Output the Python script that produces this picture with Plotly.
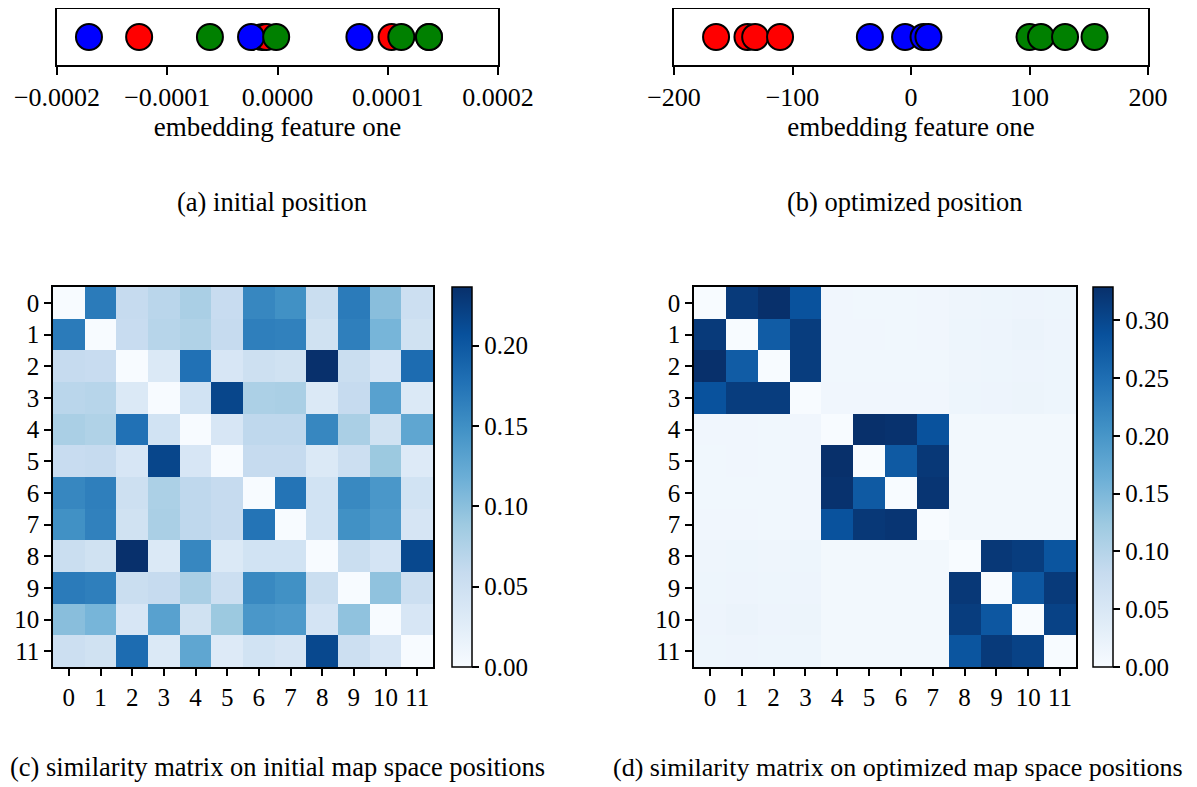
import plotly.graph_objects as go

# ---------------- data ----------------
# (a) initial 1-D embedding positions
init_red = [-0.0001255, -0.0000140, -0.0000100, 0.0001035]
init_blue = [-0.000171, -0.000024, 0.0000743, 0.0001374]
init_green = [-0.0000613, -0.0000012, 0.0001123, 0.0001374]

# (b) optimized 1-D embedding positions
opt_red = [-164.5, -138.0, -131.5, -110.5]
opt_blue = [-34.7, -5.0, 10.6, 14.7]
opt_green = [100.0, 109.7, 130.0, 154.9]

strip_a_ticks = [-0.0002, -0.0001, 0.0, 0.0001, 0.0002]
strip_a_labels = ["−0.0002", "−0.0001", "0.0000", "0.0001", "0.0002"]
strip_b_ticks = [-200, -100, 0, 100, 200]
strip_b_labels = ["−200", "−100", "0", "100", "200"]

idx = list(range(12))

# (c) similarity matrix on initial positions
sim_initial = [
    [0.000, 0.168, 0.059, 0.068, 0.080, 0.057, 0.158, 0.149, 0.054, 0.168, 0.101, 0.052],
    [0.168, 0.000, 0.057, 0.070, 0.075, 0.059, 0.165, 0.163, 0.047, 0.165, 0.111, 0.047],
    [0.059, 0.057, 0.000, 0.033, 0.177, 0.038, 0.050, 0.047, 0.236, 0.054, 0.038, 0.182],
    [0.068, 0.070, 0.033, 0.000, 0.045, 0.217, 0.078, 0.080, 0.033, 0.059, 0.132, 0.033],
    [0.080, 0.075, 0.177, 0.045, 0.000, 0.038, 0.064, 0.064, 0.158, 0.080, 0.047, 0.127],
    [0.057, 0.059, 0.038, 0.217, 0.038, 0.000, 0.059, 0.059, 0.033, 0.052, 0.090, 0.031],
    [0.158, 0.165, 0.050, 0.078, 0.064, 0.059, 0.000, 0.175, 0.045, 0.156, 0.142, 0.045],
    [0.149, 0.163, 0.047, 0.080, 0.064, 0.059, 0.175, 0.000, 0.045, 0.149, 0.139, 0.040],
    [0.054, 0.047, 0.236, 0.033, 0.158, 0.033, 0.045, 0.045, 0.000, 0.054, 0.042, 0.215],
    [0.168, 0.165, 0.054, 0.059, 0.080, 0.052, 0.156, 0.149, 0.054, 0.000, 0.097, 0.052],
    [0.101, 0.111, 0.038, 0.132, 0.047, 0.090, 0.142, 0.139, 0.042, 0.097, 0.000, 0.038],
    [0.052, 0.047, 0.182, 0.033, 0.127, 0.031, 0.045, 0.040, 0.215, 0.052, 0.038, 0.000],
]

# (d) similarity matrix on optimized positions
sim_optimized = [
    [0.000, 0.316, 0.329, 0.286, 0.012, 0.011, 0.011, 0.012, 0.015, 0.016, 0.017, 0.016],
    [0.316, 0.000, 0.273, 0.313, 0.012, 0.012, 0.011, 0.012, 0.016, 0.017, 0.020, 0.017],
    [0.329, 0.273, 0.000, 0.313, 0.011, 0.011, 0.011, 0.011, 0.015, 0.016, 0.017, 0.016],
    [0.286, 0.313, 0.313, 0.000, 0.012, 0.012, 0.012, 0.012, 0.016, 0.017, 0.018, 0.016],
    [0.012, 0.012, 0.011, 0.012, 0.000, 0.329, 0.326, 0.286, 0.008, 0.008, 0.008, 0.008],
    [0.011, 0.012, 0.011, 0.012, 0.329, 0.000, 0.276, 0.319, 0.008, 0.008, 0.008, 0.008],
    [0.011, 0.011, 0.011, 0.012, 0.326, 0.276, 0.000, 0.322, 0.008, 0.008, 0.008, 0.008],
    [0.012, 0.012, 0.011, 0.012, 0.286, 0.319, 0.322, 0.000, 0.008, 0.008, 0.008, 0.008],
    [0.015, 0.016, 0.015, 0.016, 0.008, 0.008, 0.008, 0.008, 0.000, 0.319, 0.313, 0.283],
    [0.016, 0.017, 0.016, 0.017, 0.008, 0.008, 0.008, 0.008, 0.319, 0.000, 0.280, 0.316],
    [0.017, 0.020, 0.017, 0.018, 0.008, 0.008, 0.008, 0.008, 0.313, 0.280, 0.000, 0.306],
    [0.016, 0.017, 0.016, 0.016, 0.008, 0.008, 0.008, 0.008, 0.283, 0.316, 0.306, 0.000],
]

captions = [
    "(a) initial position",
    "(b) optimized position",
    "(c) similarity matrix on initial map space positions",
    "(d) similarity matrix on optimized map space positions",
]

# ---------------- styling ----------------
# the page body has an 8px margin, so the figure is drawn 8px smaller and offset
OFF = 8
W, H = 1197 - OFF, 787 - OFF
FONT = "Liberation Serif, Times New Roman, serif"
blues = [
    [0.0, "#f7fbff"], [0.125, "#deebf7"], [0.25, "#c6dbef"], [0.375, "#9ecae1"],
    [0.5, "#6baed6"], [0.625, "#4292c6"], [0.75, "#2171b5"], [0.875, "#08519c"],
    [1.0, "#08306b"],
]


def px(v):
    return (v - OFF) / W


def py(v):
    return 1 - (v - OFF) / H


def xd(a, b):
    return [px(a), px(b)]


def yd(top, bottom):
    return [py(bottom), py(top)]


fig = go.Figure()

marker_line = dict(color="black", width=2)
for xs, col in [(init_red, "red"), (init_blue, "blue"), (init_green, "green")]:
    fig.add_trace(go.Scatter(x=xs, y=[0] * len(xs), mode="markers", xaxis="x", yaxis="y",
                             marker=dict(size=26, color=col, line=marker_line),
                             showlegend=False, hoverinfo="x"))
for xs, col in [(opt_red, "red"), (opt_blue, "blue"), (opt_green, "green")]:
    fig.add_trace(go.Scatter(x=xs, y=[0] * len(xs), mode="markers", xaxis="x2", yaxis="y2",
                             marker=dict(size=26, color=col, line=marker_line),
                             showlegend=False, hoverinfo="x"))

cb_common = dict(thickness=20, len=380, lenmode="pixels", outlinewidth=1.5, outlinecolor="black",
                 ticks="outside", ticklen=7, tickwidth=1.5, tickcolor="black",
                 tickfont=dict(family=FONT, size=25, color="black"), tickformat=".2f",
                 dtick=0.05, tick0=0, xanchor="left", yanchor="middle", xpad=0, ypad=0)

fig.add_trace(go.Heatmap(z=sim_initial, x=idx, y=idx, xaxis="x3", yaxis="y3",
                         colorscale=blues, zmin=0, zmax=0.2364,
                         colorbar=dict(x=px(452), y=py(477), **cb_common)))
fig.add_trace(go.Heatmap(z=sim_optimized, x=idx, y=idx, xaxis="x4", yaxis="y4",
                         colorscale=blues, zmin=0, zmax=0.3288,
                         colorbar=dict(x=px(1093), y=py(477), **cb_common)))

tickfont = dict(family=FONT, size=26, color="black")
hm_tickfont = dict(family=FONT, size=25, color="black")
frame = dict(showline=True, mirror=True, linecolor="black", linewidth=1.5, showgrid=False,
             zeroline=False)
strip_x = dict(ticks="outside", ticklen=8, tickwidth=1.5, tickcolor="black",
               tickfont=tickfont, **frame)
strip_y = dict(range=[-1, 1], showticklabels=False, ticks="", **frame)
hm_ax = dict(ticks="outside", ticklen=7, tickwidth=1.5, tickcolor="black",
             tickfont=hm_tickfont, tickvals=idx, ticktext=[str(i) for i in idx], **frame)
axtitle = dict(text="embedding feature one", font=dict(family=FONT, size=27, color="black"),
               standoff=6)

fig.update_layout(
    width=W, height=H, margin=dict(l=0, r=0, t=0, b=0, autoexpand=False),
    paper_bgcolor="white", plot_bgcolor="white", showlegend=False,
    xaxis=dict(domain=xd(57, 498), anchor="y", range=[-0.0002, 0.0002],
               tickvals=strip_a_ticks, ticktext=strip_a_labels, title=axtitle, **strip_x),
    yaxis=dict(domain=yd(9, 65), anchor="x", **strip_y),
    xaxis2=dict(domain=xd(674, 1148), anchor="y2", range=[-200, 200],
                tickvals=strip_b_ticks, ticktext=strip_b_labels, title=axtitle, **strip_x),
    yaxis2=dict(domain=yd(9, 65), anchor="x2", **strip_y),
    xaxis3=dict(domain=xd(53, 433), anchor="y3", range=[-0.5, 11.5], **hm_ax),
    yaxis3=dict(domain=yd(287, 667), anchor="x3", range=[11.5, -0.5], **hm_ax),
    xaxis4=dict(domain=xd(694, 1076), anchor="y4", range=[-0.5, 11.5], **hm_ax),
    yaxis4=dict(domain=yd(287, 667), anchor="x4", range=[11.5, -0.5], **hm_ax),
)

cap_pos = [(272, 202, "center", 26.5), (905, 202, "center", 26.5),
           (OFF, 767, "left", 26.5), (898, 767, "center", 26)]
for text, (cx, cy, anchor, fs) in zip(captions, cap_pos):
    fig.add_annotation(text=text, x=px(cx), y=py(cy), xref="paper", yref="paper",
                       showarrow=False, xanchor=anchor, yanchor="middle",
                       font=dict(family=FONT, size=fs, color="black"))

fig.write_html("out.html")
